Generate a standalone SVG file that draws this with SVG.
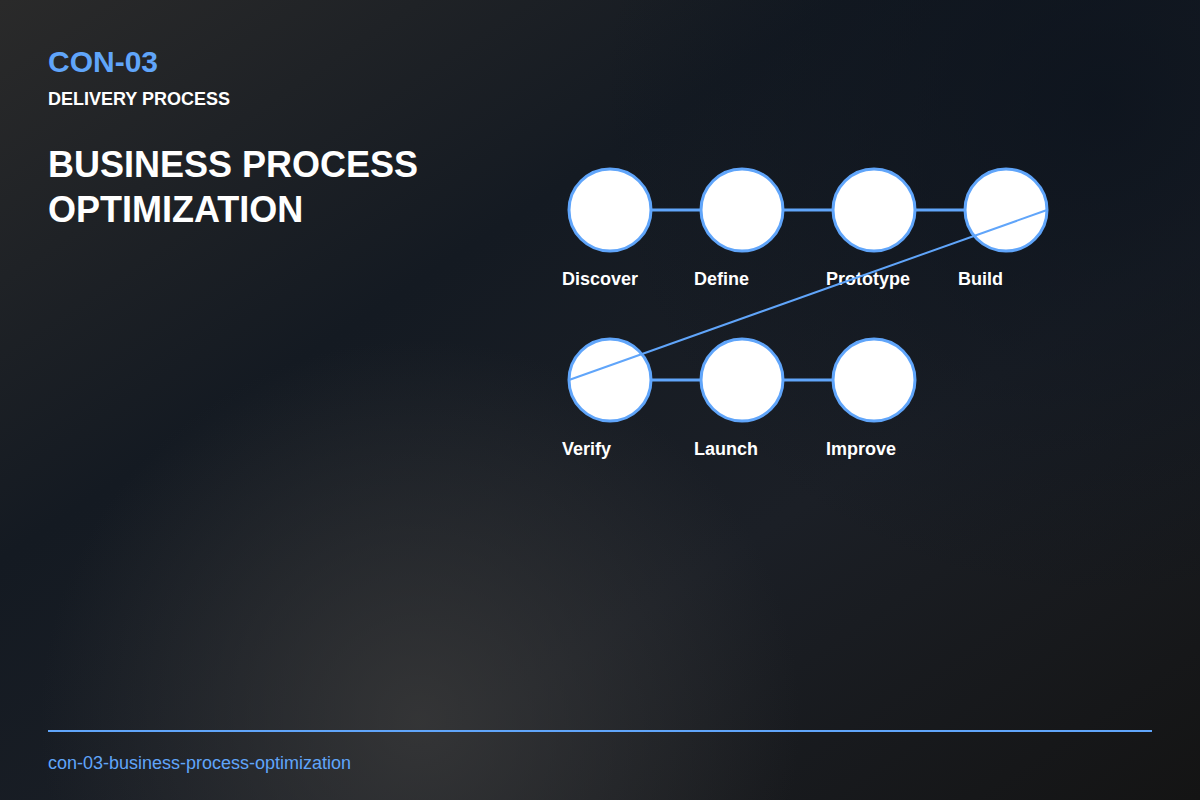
<svg xmlns="http://www.w3.org/2000/svg" width="1200" height="800" viewBox="0 0 1200 800">
  <defs>
    <linearGradient id="bg" x1="0" y1="0" x2="1" y2="1">
      <stop offset="0" stop-color="#2a2a2a"/>
      <stop offset="0.35" stop-color="#141a22"/>
      <stop offset="0.65" stop-color="#1b1f26"/>
      <stop offset="1" stop-color="#141414"/>
    </linearGradient>
    <radialGradient id="glow1" cx="420" cy="720" r="380" gradientUnits="userSpaceOnUse">
      <stop offset="0" stop-color="#3a3a3a" stop-opacity="0.8"/>
      <stop offset="1" stop-color="#3a3a3a" stop-opacity="0"/>
    </radialGradient>
    <radialGradient id="glow2" cx="1100" cy="100" r="500" gradientUnits="userSpaceOnUse">
      <stop offset="0" stop-color="#0c131d" stop-opacity="0.8"/>
      <stop offset="1" stop-color="#0c131d" stop-opacity="0"/>
    </radialGradient>
    <style>
      .node circle { fill: #ffffff; stroke: #60a5fa; stroke-width: 3; }
      .label { font-family: "Liberation Sans", Arial, sans-serif; font-size: 18px; font-weight: bold; fill: #ffffff; }
      .edge { stroke: #60a5fa; stroke-width: 3; fill: none; }
      .edge-thin { stroke: #60a5fa; stroke-width: 2; fill: none; }
    </style>
  </defs>
  <rect width="1200" height="800" fill="url(#bg)"/>
  <rect width="1200" height="800" fill="url(#glow1)"/>
  <rect width="1200" height="800" fill="url(#glow2)"/>

  <g id="header" font-family="Liberation Sans, Arial, sans-serif" font-weight="bold">
    <text x="48" y="72" font-size="30" fill="#60a5fa">CON-03</text>
    <text x="48" y="105" font-size="18" fill="#ffffff">DELIVERY PROCESS</text>
    <text x="48" y="177" font-size="36" fill="#ffffff">BUSINESS PROCESS</text>
    <text x="48" y="222" font-size="36" fill="#ffffff">OPTIMIZATION</text>
  </g>

  <g id="connectors-back">
    <line class="edge" x1="651" y1="210" x2="701" y2="210"/>
    <line class="edge" x1="783" y1="210" x2="833" y2="210"/>
    <line class="edge" x1="915" y1="210" x2="965" y2="210"/>
    <line class="edge" x1="651" y1="380" x2="701" y2="380"/>
    <line class="edge" x1="783" y1="380" x2="833" y2="380"/>
  </g>

  <g id="node-discover" class="node"><circle cx="610" cy="210" r="41"/><text class="label" x="562" y="285">Discover</text></g>
  <g id="node-define" class="node"><circle cx="742" cy="210" r="41"/><text class="label" x="694" y="285">Define</text></g>
  <g id="node-prototype" class="node"><circle cx="874" cy="210" r="41"/><text class="label" x="826" y="285">Prototype</text></g>
  <g id="node-build" class="node"><circle cx="1006" cy="210" r="41"/><text class="label" x="958" y="285">Build</text></g>
  <g id="node-verify" class="node"><circle cx="610" cy="380" r="41"/><text class="label" x="562" y="455">Verify</text></g>
  <g id="node-launch" class="node"><circle cx="742" cy="380" r="41"/><text class="label" x="694" y="455">Launch</text></g>
  <g id="node-improve" class="node"><circle cx="874" cy="380" r="41"/><text class="label" x="826" y="455">Improve</text></g>

  <g id="connectors">
    <line class="edge-thin" x1="1047" y1="210" x2="569" y2="380"/>
  </g>

  <g id="footer">
    <line x1="48" y1="731" x2="1152" y2="731" stroke="#60a5fa" stroke-width="2"/>
    <text x="48" y="769" font-family="Liberation Sans, Arial, sans-serif" font-size="18" fill="#60a5fa">con-03-business-process-optimization</text>
  </g>
</svg>
